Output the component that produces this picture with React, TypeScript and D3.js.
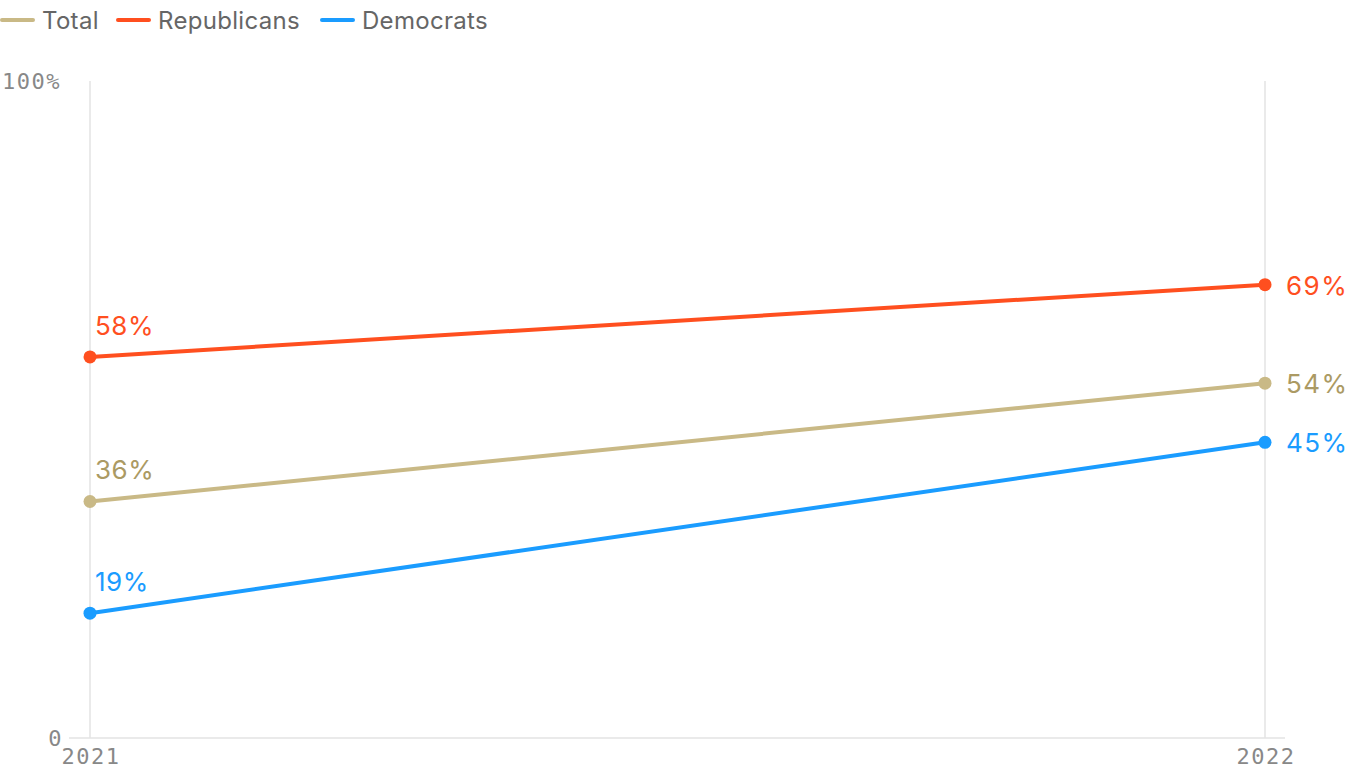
import * as d3 from "d3";

const years = ["2021", "2022"];
const seriesNames = ["Total", "Republicans", "Democrats"];
const seriesColors = ["#c9b986", "#ff4f1f", "#1a9cff"];
const labelColors = ["#ab9a63", "#ff4f1f", "#1a9cff"];
const totalValues = [36, 54];
const republicanValues = [58, 69];
const democratValues = [19, 45];
const yTicks = [0, 100];

const seriesValues = [totalValues, republicanValues, democratValues];

export default function App() {
  const width = 1366;
  const height = 768;
  const x = d3.scalePoint<string>().domain(years).range([90, 1265]);
  const y = d3.scaleLinear().domain([0, 100]).range([738, 81]);
  const line = d3.line<number>().x((_, i) => x(years[i])!).y(d => y(d));

  const legendX = [0, 116, 320];
  const mono = "'DejaVu Sans Mono', monospace";
  const sans = "Inter, 'Noto Sans', sans-serif";

  return (
    <svg width={width} height={height} style={{ position: "absolute", left: 0, top: 0, background: "#fff" }}>
      {/* legend */}
      {seriesNames.map((name, i) => (
        <g key={name} transform={`translate(${legendX[i]},20)`}>
          <line x1={2} x2={33} y1={0} y2={0} stroke={seriesColors[i]} strokeWidth={4} strokeLinecap="round" />
          <text x={42} y={8.5} fontFamily={sans} fontSize={24} letterSpacing={0.3} fill="#666">{name}</text>
        </g>
      ))}

      {/* grid */}
      {years.map(yr => (
        <line key={yr} x1={x(yr)} x2={x(yr)} y1={y(100)} y2={y(0)} stroke="#e3e3e3" strokeWidth={1.5} />
      ))}
      <line x1={69} x2={1285} y1={y(0)} y2={y(0)} stroke="#e3e3e3" strokeWidth={1.5} />

      {/* y labels */}
      {yTicks.map(t => (
        <text key={t} x={t === 0 ? 63 : 2} y={y(t) + 8} textAnchor={t === 0 ? "end" : "start"}
          fontFamily={mono} fontSize={22} letterSpacing={1.5} fill="#888">
          {t === 0 ? "0" : `${t}%`}
        </text>
      ))}
      {/* x labels */}
      {years.map(yr => (
        <text key={yr} x={x(yr)! + 1} y={764} textAnchor="middle"
          fontFamily={mono} fontSize={22} letterSpacing={1.5} fill="#888">{yr}</text>
      ))}

      {/* lines */}
      {seriesValues.map((vals, i) => (
        <g key={seriesNames[i]}>
          <path d={line(vals) ?? ""} fill="none" stroke={seriesColors[i]} strokeWidth={4} />
          {vals.map((v, j) => (
            <circle key={j} cx={x(years[j])} cy={y(v)} r={6.5} fill={seriesColors[i]} />
          ))}
        </g>
      ))}

      {/* value labels */}
      {seriesValues.map((vals, i) => (
        <g key={"lab" + i} fontFamily={sans} fontSize={26} fill={labelColors[i]}>
          <text x={x(years[0])! + 5} y={y(vals[0]) - 22} letterSpacing={0.5}>{vals[0]}%</text>
          <text x={x(years[1])! + 21} y={y(vals[1]) + 10} letterSpacing={1.5}>{vals[1]}%</text>
        </g>
      ))}
    </svg>
  );
}
